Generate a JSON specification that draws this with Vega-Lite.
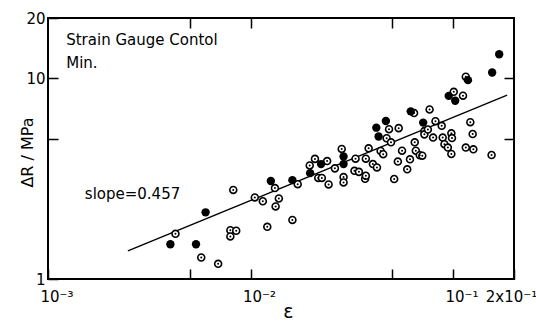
{
  "$schema": "https://vega.github.io/schema/vega-lite/v6.json",
  "width": 466,
  "height": 261,
  "autosize": "none",
  "padding": {"left": 48, "top": 18, "right": 22, "bottom": 43},
  "background": "white",
  "config": {"view": {"stroke": "black", "strokeWidth": 2}, "font": "DejaVu Sans"},
  "datasets": {
    "fit": [{"eps": 0.00248, "dR": 1.38}, {"eps": 0.185, "dR": 8.25}],
    "open": [
      {"eps": 0.00426, "dR": 1.68}, {"eps": 0.00571, "dR": 1.28}, {"eps": 0.00692, "dR": 1.19},
      {"eps": 0.00822, "dR": 2.78}, {"eps": 0.00795, "dR": 1.75}, {"eps": 0.00795, "dR": 1.63},
      {"eps": 0.0085, "dR": 1.74}, {"eps": 0.0105, "dR": 2.55}, {"eps": 0.0115, "dR": 2.44},
      {"eps": 0.0121, "dR": 1.82}, {"eps": 0.0132, "dR": 2.84}, {"eps": 0.0138, "dR": 2.52},
      {"eps": 0.0133, "dR": 2.3}, {"eps": 0.0161, "dR": 1.97}, {"eps": 0.0171, "dR": 2.97},
      {"eps": 0.0196, "dR": 3.68}, {"eps": 0.0208, "dR": 3.97}, {"eps": 0.0216, "dR": 3.19},
      {"eps": 0.0225, "dR": 3.19}, {"eps": 0.0243, "dR": 2.96}, {"eps": 0.0239, "dR": 3.87},
      {"eps": 0.0261, "dR": 3.56}, {"eps": 0.0282, "dR": 4.45}, {"eps": 0.0288, "dR": 3.22},
      {"eps": 0.0288, "dR": 3.03}, {"eps": 0.033, "dR": 3.98}, {"eps": 0.0326, "dR": 3.46},
      {"eps": 0.0343, "dR": 3.42}, {"eps": 0.0368, "dR": 3.16}, {"eps": 0.0371, "dR": 3.27},
      {"eps": 0.0371, "dR": 3.98}, {"eps": 0.0383, "dR": 4.48}, {"eps": 0.0402, "dR": 3.74},
      {"eps": 0.0421, "dR": 3.6}, {"eps": 0.0439, "dR": 4.35}, {"eps": 0.0452, "dR": 4.19},
      {"eps": 0.0483, "dR": 5.58}, {"eps": 0.047, "dR": 5.03}, {"eps": 0.0494, "dR": 4.8},
      {"eps": 0.0512, "dR": 3.15}, {"eps": 0.0539, "dR": 5.65}, {"eps": 0.0534, "dR": 3.85},
      {"eps": 0.056, "dR": 4.36}, {"eps": 0.0594, "dR": 3.52}, {"eps": 0.0613, "dR": 3.95},
      {"eps": 0.0647, "dR": 4.8}, {"eps": 0.0655, "dR": 4.36}, {"eps": 0.0642, "dR": 6.72},
      {"eps": 0.0685, "dR": 4.14}, {"eps": 0.0705, "dR": 4.12}, {"eps": 0.0722, "dR": 5.46},
      {"eps": 0.0722, "dR": 5.26}, {"eps": 0.0751, "dR": 5.56}, {"eps": 0.0766, "dR": 7.0},
      {"eps": 0.0797, "dR": 5.07}, {"eps": 0.0819, "dR": 6.12}, {"eps": 0.0879, "dR": 5.8},
      {"eps": 0.0889, "dR": 5.07}, {"eps": 0.0907, "dR": 4.7}, {"eps": 0.0943, "dR": 4.52},
      {"eps": 0.0981, "dR": 4.2}, {"eps": 0.0981, "dR": 5.32}, {"eps": 0.0988, "dR": 5.04},
      {"eps": 0.1008, "dR": 8.57}, {"eps": 0.112, "dR": 8.2}, {"eps": 0.1156, "dR": 10.2},
      {"eps": 0.1156, "dR": 4.52}, {"eps": 0.1217, "dR": 6.05}, {"eps": 0.125, "dR": 5.28},
      {"eps": 0.126, "dR": 4.43}, {"eps": 0.155, "dR": 4.15}
    ],
    "solid": [
      {"eps": 0.00402, "dR": 1.49}, {"eps": 0.00538, "dR": 1.49}, {"eps": 0.006, "dR": 2.15},
      {"eps": 0.0126, "dR": 3.08}, {"eps": 0.0161, "dR": 3.11}, {"eps": 0.0197, "dR": 3.37},
      {"eps": 0.0223, "dR": 3.74}, {"eps": 0.0288, "dR": 4.08}, {"eps": 0.0288, "dR": 3.74},
      {"eps": 0.0418, "dR": 5.68}, {"eps": 0.0466, "dR": 6.13}, {"eps": 0.0429, "dR": 5.13},
      {"eps": 0.0618, "dR": 6.85}, {"eps": 0.0712, "dR": 6.02}, {"eps": 0.0952, "dR": 8.18},
      {"eps": 0.1025, "dR": 7.74}, {"eps": 0.1185, "dR": 9.8}, {"eps": 0.156, "dR": 10.7},
      {"eps": 0.169, "dR": 13.2}
    ],
    "notes": [
      {"eps": 0.00123, "dR": 14.7, "label": "Strain Gauge Contol"},
      {"eps": 0.00123, "dR": 11.3, "label": "Min."},
      {"eps": 0.00152, "dR": 2.5, "label": "slope=0.457"}
    ]
  },
  "layer": [
    {
      "data": {"name": "fit"},
      "mark": {"type": "line", "color": "black", "strokeWidth": 1.4},
      "encoding": {
        "x": {
          "field": "eps", "type": "quantitative",
          "scale": {"type": "log", "domain": [0.001, 0.2], "nice": false},
          "axis": {
            "orient": "bottom", "values": [0.001, 0.005, 0.01, 0.05, 0.1, 0.2],
            "labelExpr": "datum.value == 0.001 ? '10⁻³' : datum.value == 0.01 ? '10⁻²' : datum.value == 0.1 ? '10⁻¹' : datum.value == 0.2 ? '2x10⁻¹' : ''",
            "tickSize": -10, "tickColor": "black", "tickWidth": 1.5,
            "domain": false, "grid": false,
            "labelFontSize": 15, "labelColor": "black", "labelPadding": 20, "labelFlush": false,
            "labelBaseline": "top",
            "labelAlign": {"condition": {"test": "datum.value >= 0.15", "value": "center"}, "value": "left"},
            "labelOffset": {"condition": {"test": "datum.value >= 0.15", "value": -3}, "value": -8},
            "title": "ε", "titleFontSize": 19, "titleFontWeight": "normal", "titleColor": "black",
            "titleX": 240, "titleY": 38, "titleBaseline": "alphabetic", "titleAlign": "center"
          }
        },
        "y": {
          "field": "dR", "type": "quantitative",
          "scale": {"type": "log", "domain": [1, 20], "nice": false},
          "axis": {
            "orient": "left", "values": [1, 5, 10, 20],
            "labelExpr": "datum.value == 20 ? '20' : datum.value == 10 ? '10' : datum.value == 1 ? '1' : ''",
            "tickSize": -10, "tickColor": "black", "tickWidth": 1.5,
            "domain": false, "grid": false,
            "labelFontSize": 15, "labelColor": "black", "labelPadding": 13,
            "labelBaseline": "middle",
            "title": "ΔR / MPa", "titleFontSize": 16, "titleFontWeight": "normal", "titleColor": "black",
            "titleX": -21, "titleY": 134, "titleAngle": 270, "titleAlign": "center", "titleBaseline": "middle"
          }
        }
      }
    },
    {
      "data": {"name": "open"},
      "mark": {"type": "circle", "fill": "white", "stroke": "black", "strokeWidth": 1.6, "size": 48, "opacity": 1},
      "encoding": {
        "x": {
          "field": "eps", "type": "quantitative",
          "scale": {"type": "log", "domain": [0.001, 0.2], "nice": false},
          "axis": {"orient": "top", "values": [0.005, 0.01, 0.05, 0.1], "labels": false, "tickSize": -10,
                   "tickColor": "black", "tickWidth": 1.5, "domain": false, "grid": false, "title": null}
        },
        "y": {
          "field": "dR", "type": "quantitative",
          "scale": {"type": "log", "domain": [1, 20], "nice": false},
          "axis": {"orient": "right", "values": [5, 10], "labels": false, "tickSize": -10,
                   "tickColor": "black", "tickWidth": 1.5, "domain": false, "grid": false, "title": null}
        }
      }
    },
    {
      "data": {"name": "open"},
      "mark": {"type": "circle", "color": "black", "size": 4, "opacity": 1},
      "encoding": {
        "x": {"field": "eps", "type": "quantitative", "scale": {"type": "log", "domain": [0.001, 0.2], "nice": false}, "axis": null},
        "y": {"field": "dR", "type": "quantitative", "scale": {"type": "log", "domain": [1, 20], "nice": false}, "axis": null}
      }
    },
    {
      "data": {"name": "solid"},
      "mark": {"type": "circle", "color": "black", "size": 70, "opacity": 1},
      "encoding": {
        "x": {"field": "eps", "type": "quantitative", "scale": {"type": "log", "domain": [0.001, 0.2], "nice": false}, "axis": null},
        "y": {"field": "dR", "type": "quantitative", "scale": {"type": "log", "domain": [1, 20], "nice": false}, "axis": null}
      }
    },
    {
      "data": {"name": "notes"},
      "mark": {"type": "text", "align": "left", "baseline": "alphabetic", "fontSize": 15, "color": "black", "font": "DejaVu Sans"},
      "encoding": {
        "x": {"field": "eps", "type": "quantitative", "scale": {"type": "log", "domain": [0.001, 0.2], "nice": false}, "axis": null},
        "y": {"field": "dR", "type": "quantitative", "scale": {"type": "log", "domain": [1, 20], "nice": false}, "axis": null},
        "text": {"field": "label"}
      }
    }
  ],
  "resolve": {"axis": {"x": "independent", "y": "independent"}}
}
